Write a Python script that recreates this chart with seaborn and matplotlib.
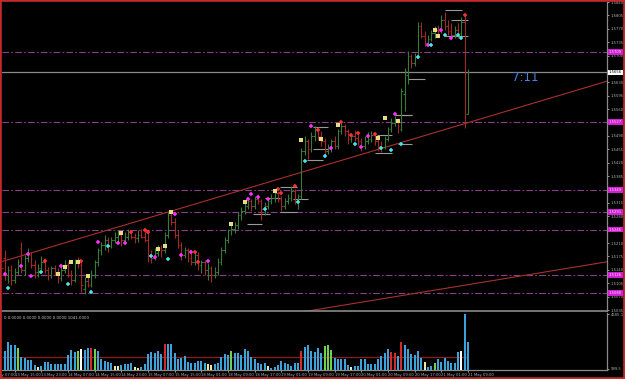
import matplotlib
matplotlib.use("Agg")
import matplotlib.pyplot as plt
import seaborn as sns
import numpy as np
from matplotlib.patches import Rectangle
from matplotlib.transforms import blended_transform_factory

# ---------------- data (H1 bars) ----------------
opens = [
1.5160,1.5170,1.5126,1.5139,1.5113,1.5134,1.5196,1.5139,1.5170,1.5178,
1.5152,1.5134,1.5144,1.5160,1.5139,1.5126,1.5144,1.5134,1.5118,1.5139,
1.5152,1.5126,1.5113,1.5160,1.5152,1.5090,1.5110,1.5100,1.5126,1.5160,
1.5191,1.5204,1.5217,1.5201,1.5217,1.5227,1.5232,1.5217,1.5227,1.5238,
1.5227,1.5222,1.5232,1.5227,1.5217,1.5178,1.5170,1.5185,1.5196,1.5191,
1.5230,1.5282,1.5264,1.5230,1.5204,1.5178,1.5191,1.5170,1.5160,1.5178,
1.5152,1.5160,1.5139,1.5144,1.5126,1.5134,1.5160,1.5191,1.5217,1.5243,
1.5248,1.5256,1.5282,1.5295,1.5308,1.5321,1.5308,1.5326,1.5321,1.5300,
1.5308,1.5321,1.5329,1.5342,1.5326,1.5308,1.5321,1.5329,1.5347,1.5321,
1.5334,1.5451,1.5477,1.5456,1.5490,1.5508,1.5490,1.5477,1.5451,1.5456,
1.5477,1.5464,1.5503,1.5516,1.5503,1.5482,1.5490,1.5485,1.5477,1.5464,
1.5477,1.5482,1.5493,1.5477,1.5464,1.5461,1.5482,1.5508,1.5524,1.5534,
1.5508,1.5600,1.5650,1.5698,1.5680,1.5698,1.5776,1.5750,1.5732,1.5742,
1.5758,1.5768,1.5763,1.5794,1.5776,1.5763,1.5755,1.5768,1.5758,1.5789,
1.5548]
highs = [
1.5170,1.5191,1.5150,1.5152,1.5145,1.5168,1.5212,1.5178,1.5196,1.5186,
1.5165,1.5155,1.5175,1.5170,1.5147,1.5150,1.5152,1.5144,1.5147,1.5165,
1.5160,1.5139,1.5168,1.5173,1.5165,1.5120,1.5126,1.5139,1.5165,1.5196,
1.5212,1.5230,1.5225,1.5227,1.5238,1.5245,1.5240,1.5238,1.5248,1.5245,
1.5235,1.5243,1.5248,1.5248,1.5240,1.5191,1.5196,1.5204,1.5206,1.5240,
1.5292,1.5290,1.5275,1.5245,1.5214,1.5199,1.5196,1.5186,1.5188,1.5186,
1.5165,1.5165,1.5157,1.5150,1.5147,1.5170,1.5199,1.5225,1.5248,1.5256,
1.5264,1.5290,1.5303,1.5316,1.5329,1.5326,1.5334,1.5337,1.5326,1.5316,
1.5329,1.5339,1.5347,1.5345,1.5334,1.5329,1.5337,1.5360,1.5352,1.5339,
1.5458,1.5490,1.5482,1.5500,1.5516,1.5513,1.5503,1.5485,1.5469,1.5482,
1.5490,1.5508,1.5526,1.5521,1.5508,1.5498,1.5506,1.5495,1.5485,1.5490,
1.5500,1.5503,1.5498,1.5485,1.5477,1.5490,1.5513,1.5537,1.5542,1.5537,
1.5615,1.5667,1.5711,1.5703,1.5706,1.5789,1.5789,1.5763,1.5755,1.5768,
1.5776,1.5781,1.5807,1.5815,1.5794,1.5784,1.5776,1.5786,1.5802,1.5807,
1.5664]
lows = [
1.5135,1.5113,1.5105,1.5100,1.5105,1.5126,1.5131,1.5126,1.5160,1.5144,
1.5118,1.5121,1.5139,1.5131,1.5113,1.5118,1.5126,1.5105,1.5110,1.5131,
1.5121,1.5100,1.5108,1.5144,1.5082,1.5076,1.5095,1.5095,1.5118,1.5150,
1.5178,1.5191,1.5186,1.5196,1.5209,1.5212,1.5201,1.5209,1.5217,1.5220,
1.5209,1.5214,1.5222,1.5212,1.5160,1.5157,1.5165,1.5175,1.5173,1.5183,
1.5222,1.5256,1.5222,1.5196,1.5165,1.5170,1.5160,1.5152,1.5152,1.5139,
1.5131,1.5126,1.5113,1.5108,1.5118,1.5126,1.5152,1.5183,1.5209,1.5230,
1.5235,1.5248,1.5269,1.5285,1.5298,1.5295,1.5300,1.5311,1.5269,1.5282,
1.5298,1.5311,1.5318,1.5316,1.5295,1.5300,1.5311,1.5321,1.5311,1.5300,
1.5326,1.5440,1.5430,1.5448,1.5477,1.5480,1.5464,1.5440,1.5443,1.5448,
1.5456,1.5456,1.5495,1.5490,1.5469,1.5474,1.5477,1.5466,1.5451,1.5456,
1.5469,1.5474,1.5466,1.5451,1.5448,1.5456,1.5477,1.5500,1.5516,1.5498,
1.5503,1.5555,1.5625,1.5667,1.5672,1.5693,1.5745,1.5724,1.5724,1.5737,
1.5745,1.5750,1.5758,1.5768,1.5755,1.5742,1.5745,1.5747,1.5750,1.5511,
1.5547]
closes = [
1.5144,1.5126,1.5139,1.5113,1.5134,1.5160,1.5139,1.5170,1.5178,1.5152,
1.5134,1.5144,1.5160,1.5139,1.5126,1.5144,1.5134,1.5118,1.5139,1.5152,
1.5126,1.5113,1.5160,1.5152,1.5100,1.5110,1.5100,1.5126,1.5160,1.5191,
1.5204,1.5217,1.5201,1.5217,1.5227,1.5232,1.5217,1.5227,1.5238,1.5227,
1.5222,1.5232,1.5227,1.5217,1.5178,1.5170,1.5185,1.5196,1.5191,1.5230,
1.5282,1.5264,1.5230,1.5204,1.5178,1.5191,1.5170,1.5160,1.5178,1.5152,
1.5160,1.5139,1.5144,1.5126,1.5134,1.5160,1.5191,1.5217,1.5243,1.5248,
1.5256,1.5282,1.5295,1.5308,1.5321,1.5308,1.5326,1.5321,1.5300,1.5308,
1.5321,1.5329,1.5342,1.5326,1.5308,1.5321,1.5329,1.5347,1.5321,1.5334,
1.5451,1.5477,1.5456,1.5490,1.5508,1.5490,1.5477,1.5451,1.5456,1.5477,
1.5464,1.5503,1.5516,1.5503,1.5482,1.5490,1.5485,1.5477,1.5464,1.5477,
1.5482,1.5493,1.5477,1.5464,1.5461,1.5482,1.5508,1.5524,1.5534,1.5516,
1.5607,1.5659,1.5698,1.5680,1.5698,1.5776,1.5750,1.5732,1.5742,1.5758,
1.5768,1.5763,1.5794,1.5776,1.5763,1.5755,1.5768,1.5758,1.5789,1.5524,
1.5656]

volumes = [
1973,1562,2302,2055,2055,1808,1069,986,822,797,
411,271,329,658,658,518,469,493,469,493,
1208,1644,1504,1562,1702,1644,1784,1833,1702,1562,
880,740,682,600,329,329,411,469,518,600,
271,189,271,469,1340,1504,1422,1562,1300,2113,
2137,2113,1422,880,962,1150,682,600,600,740,
740,600,469,411,469,600,1069,1291,1233,1562,
1422,1422,1233,1751,1562,1069,880,600,518,600,
329,189,247,386,740,600,518,329,600,600,
1562,1915,2030,1562,1504,1833,1422,1973,2055,1620,
962,880,880,880,386,247,329,329,880,880,
518,469,518,880,1150,1422,1751,1504,1422,1150,
2326,2030,1702,1291,1233,1562,962,658,247,329,
600,880,658,962,740,600,600,1480,1562,4605,
2326]
volume_class = (
"bbbbbgbbbbbybbbbbbbbbbbgwbbrgbbbbbyybbbbyybbbbbbbr"
"bbbbbbbbbbbbyybbbbbgbbbbbbbbbbybbbbbbbbbrbbbbbbggg"
"bbbbbybbbbbbbbbbbrrbrbbbbbbybbgbbbbbbbwb")
volume_ma = 1041.0
volume_top = 4605.1

levels = [1.5709, 1.5527, 1.5349, 1.5291, 1.5245, 1.5126, 1.5080]
current_price = 1.5656
price_ticks = [1.5840, 1.5805, 1.5770, 1.5735, 1.5700, 1.5630, 1.5595, 1.5560,
               1.5490, 1.5455, 1.5420, 1.5385, 1.5315, 1.5280, 1.5210, 1.5175,
               1.5140, 1.5105, 1.5070, 1.5035]

time_labels = ["13 May 07:00", "13 May 15:00", "13 May 23:00", "14 May 07:00",
               "14 May 15:00", "14 May 23:00", "15 May 07:00", "15 May 15:00",
               "18 May 01:00", "18 May 09:00", "18 May 17:00", "19 May 01:00",
               "19 May 09:00", "19 May 17:00", "20 May 01:00", "20 May 09:00",
               "20 May 17:00", "21 May 01:00", "21 May 09:00"]
time_label_bars = [-4, 4, 12, 20, 28, 36, 44, 52, 60, 68, 76, 84, 92, 100, 108,
                   116, 124, 132, 140]

trend1_x = [-0.4, 181.7]
trend1_y = [1.5160, 1.5633]
trend2_x = [91.7, 181.7]
trend2_y = [1.5032, 1.5161]

seg_start = [133, 135, 133, 122, 119.6, 93.5, 91.7, 93.5, 112.1, 112.7, 118.1, 119, 73.7, 75.5, 83.6, 83.6, 87.5, 79.1]
seg_end   = [138.2, 140, 140, 127.1, 123.2, 98, 96.5, 98, 117.2, 117.2, 123.2, 123.2, 78.2, 80.6, 88.7, 88.7, 92, 83.6]
seg_price = [1.5818, 1.5792, 1.5750, 1.5638, 1.5545, 1.5513, 1.5428, 1.5456, 1.5446, 1.5493, 1.5545, 1.5469,
             1.5259, 1.5285, 1.5292, 1.5357, 1.5324, 1.5329]

magenta_bar = [1, 6, 8, 9, 18, 29, 35, 37, 46, 52, 54, 57, 62, 74, 75, 77, 80, 93, 99, 108, 110, 118, 128, 132, 135]
magenta_px = [1.5129, 1.5149, 1.5181, 1.5123, 1.5149, 1.5212, 1.5209, 1.5209, 1.5173, 1.5287, 1.5178, 1.5186,
              1.5162, 1.5324, 1.5339, 1.5331, 1.5326, 1.5516, 1.5459, 1.5461, 1.5490, 1.5547, 1.5727, 1.5766, 1.5745]
cyan_bar = [2, 12, 20, 27, 32, 45, 50, 79, 89, 91, 97, 106, 114, 117, 120, 125, 129, 133, 137, 138]
cyan_px = [1.5092, 1.5134, 1.5103, 1.5082, 1.5201, 1.5175, 1.5168, 1.5300, 1.5318, 1.5425, 1.5438, 1.5469,
           1.5459, 1.5454, 1.5469, 1.5695, 1.5727, 1.5753, 1.5755, 1.5745]
yellow_bar = [17, 19, 21, 23, 26, 36, 47, 49, 51, 69, 73, 82, 90, 96, 101, 113, 115, 119, 130, 131]
yellow_px = [1.5129, 1.5147, 1.5160, 1.5160, 1.5123, 1.5235, 1.5194, 1.5201, 1.5292, 1.5261, 1.5316, 1.5347,
             1.5480, 1.5482, 1.5519, 1.5485, 1.5537, 1.5529, 1.5766, 1.5750]
red_bar = [13, 24, 39, 43, 44, 58, 59, 83, 84, 88, 95, 102, 105, 107, 112, 139]
red_px = [1.5162, 1.5162, 1.5240, 1.5243, 1.5238, 1.5186, 1.5160, 1.5350, 1.5342, 1.5360, 1.5506, 1.5526,
          1.5493, 1.5498, 1.5495, 1.5805]

timer_text = "7:11"

# ---------------- style ----------------
sns.set_theme(style="dark", rc={"axes.facecolor": "black", "figure.facecolor": "black"})
plt.rcParams["font.family"] = ["DejaVu Sans"]

W, H = 625, 379
def rect(L, T, R, B):
    return [L / W, 1 - B / H, (R - L) / W, (B - T) / H]

fig = plt.figure(figsize=(6.25, 3.79), dpi=100, facecolor="black")
ax = fig.add_axes(rect(2, 2, 607, 311))
axv = fig.add_axes(rect(2, 313, 607, 370))

o = np.array(opens); h = np.array(highs); l = np.array(lows); c = np.array(closes)
idx = np.arange(len(c))
UP, DN = "#387a38", "#a32828"
cols = np.where(c >= o, UP, DN)

XMIN, XMAX = 0.21, 181.7
YMIN, YMAX = 1.50324, 1.58358
TFS = 2.7   # tiny axis font size
TCOL = "#b4b4b4"

# level lines
for lv in levels:
    ax.axhline(lv, color="#8c3c8c", lw=0.8, ls=(0, (6, 2, 1.5, 2)), zorder=1)
ax.axhline(current_price, color="#8a8a8a", lw=0.9, zorder=1)

# trend lines
sns.lineplot(x=trend1_x, y=trend1_y, ax=ax, color="#a8302e", lw=0.8, zorder=2)
sns.lineplot(x=trend2_x, y=trend2_y, ax=ax, color="#a8302e", lw=0.8, zorder=2)

# short horizontal segments
ax.hlines(seg_price, seg_start, seg_end, colors="#9a9a9a", lw=0.8, zorder=2)

# OHLC bars
ax.vlines(idx, l, h, colors=cols, lw=0.8, zorder=3)
ax.hlines(o, idx - 0.45, idx, colors=cols, lw=0.8, zorder=3)
ax.hlines(c, idx, idx + 0.45, colors=cols, lw=0.8, zorder=3)

# indicator markers
sns.scatterplot(x=magenta_bar, y=magenta_px, ax=ax, marker="+", s=10, color="#ff30ff", linewidth=1.1, zorder=5)
sns.scatterplot(x=cyan_bar, y=cyan_px, ax=ax, marker="+", s=10, color="#40e8e8", linewidth=1.1, zorder=5)
sns.scatterplot(x=red_bar, y=red_px, ax=ax, marker="+", s=10, color="#ff3030", linewidth=1.1, zorder=5)
sns.scatterplot(x=yellow_bar, y=yellow_px, ax=ax, marker="s", s=6, color="#e8dc80", linewidth=0, zorder=5)

ax.text(153.2, 1.5643, timer_text, color="#4f80d8", fontsize=8.5, va="center", ha="left", zorder=6)

ax.set_xlim(XMIN, XMAX)
ax.set_ylim(YMIN, YMAX)
ax.set_facecolor("black")
ax.grid(False)
ax.yaxis.tick_right()
ax.set_yticks(price_ticks)
ax.set_yticklabels([f"{p:.4f}" for p in price_ticks])
ax.tick_params(axis="y", labelsize=TFS, colors=TCOL, length=1.5, width=0.6, pad=1.0, right=True)
ax.tick_params(axis="x", bottom=False, labelbottom=False)
for s in ["left", "top"]:
    ax.spines[s].set_visible(False)
ax.spines["right"].set_color("#8a8a8a"); ax.spines["right"].set_linewidth(0.9)
ax.spines["bottom"].set_color("#8a8a8a"); ax.spines["bottom"].set_linewidth(1.2)

# price label boxes
tr = blended_transform_factory(ax.transAxes, ax.transData)
for lv in levels:
    ax.text(1.003, lv, f"{lv:.4f}", transform=tr, fontsize=TFS, color="#ffd8ff", va="center", ha="left",
            bbox=dict(boxstyle="square,pad=0.2", fc="#d21ed2", ec="none"), clip_on=False, zorder=7)
ax.text(1.003, current_price, f"{current_price:.4f}", transform=tr, fontsize=TFS, color="black", va="center",
        ha="left", bbox=dict(boxstyle="square,pad=0.2", fc="white", ec="none"), clip_on=False, zorder=7)

# volume panel
vcol_map = {"b": "#3ba3dc", "g": "#6fd04a", "r": "#d42a2a", "y": "#efe6a0", "w": "#ffffff"}
vcols = [vcol_map[k] for k in volume_class]
axv.bar(idx, volumes, width=0.62, color=vcols, linewidth=0, zorder=3)
axv.hlines(volume_ma, XMIN, idx[-1], colors="#8e1c1c", lw=0.9, zorder=2)
axv.set_xlim(XMIN, XMAX)
axv.set_ylim(0, volume_top * 1.02)
axv.set_facecolor("black")
axv.grid(False)
axv.text(0.003, 0.95, f"0 0.0000 0.0000 0.0000 0.0000 {volume_ma:.4f}", transform=axv.transAxes,
         fontsize=2.9, color="#c8c8c8", va="top", ha="left")
axv.yaxis.tick_right()
axv.set_yticks([volume_top, 0.02 * volume_top])
axv.set_yticklabels([f"{volume_top:.1f}", "999.5"])
axv.tick_params(axis="y", labelsize=TFS, colors=TCOL, length=1.5, width=0.6, pad=1.0)
vis = [i for i, b in enumerate(time_label_bars) if b >= XMIN]
axv.set_xticks([time_label_bars[i] for i in vis])
axv.set_xticklabels([time_labels[i] for i in vis], ha="left")
axv.tick_params(axis="x", labelsize=TFS, colors=TCOL, length=1.5, width=0.6, pad=1.0, bottom=True)
for s in ["left", "top"]:
    axv.spines[s].set_visible(False)
for s in ["right", "bottom"]:
    axv.spines[s].set_color("#8a8a8a"); axv.spines[s].set_linewidth(0.9)
# partially visible first label
trx = blended_transform_factory(axv.transData, axv.transAxes)
axv.text(time_label_bars[0] + 0.6, -0.055, time_labels[0], transform=trx, fontsize=TFS, color=TCOL,
         va="top", ha="left", clip_on=False)

fig.add_artist(Rectangle((0, 0), 1, 1, transform=fig.transFigure, fill=False, edgecolor="#c42a2a", lw=2.6))

fig.savefig("out.png", dpi=100, facecolor="black")
